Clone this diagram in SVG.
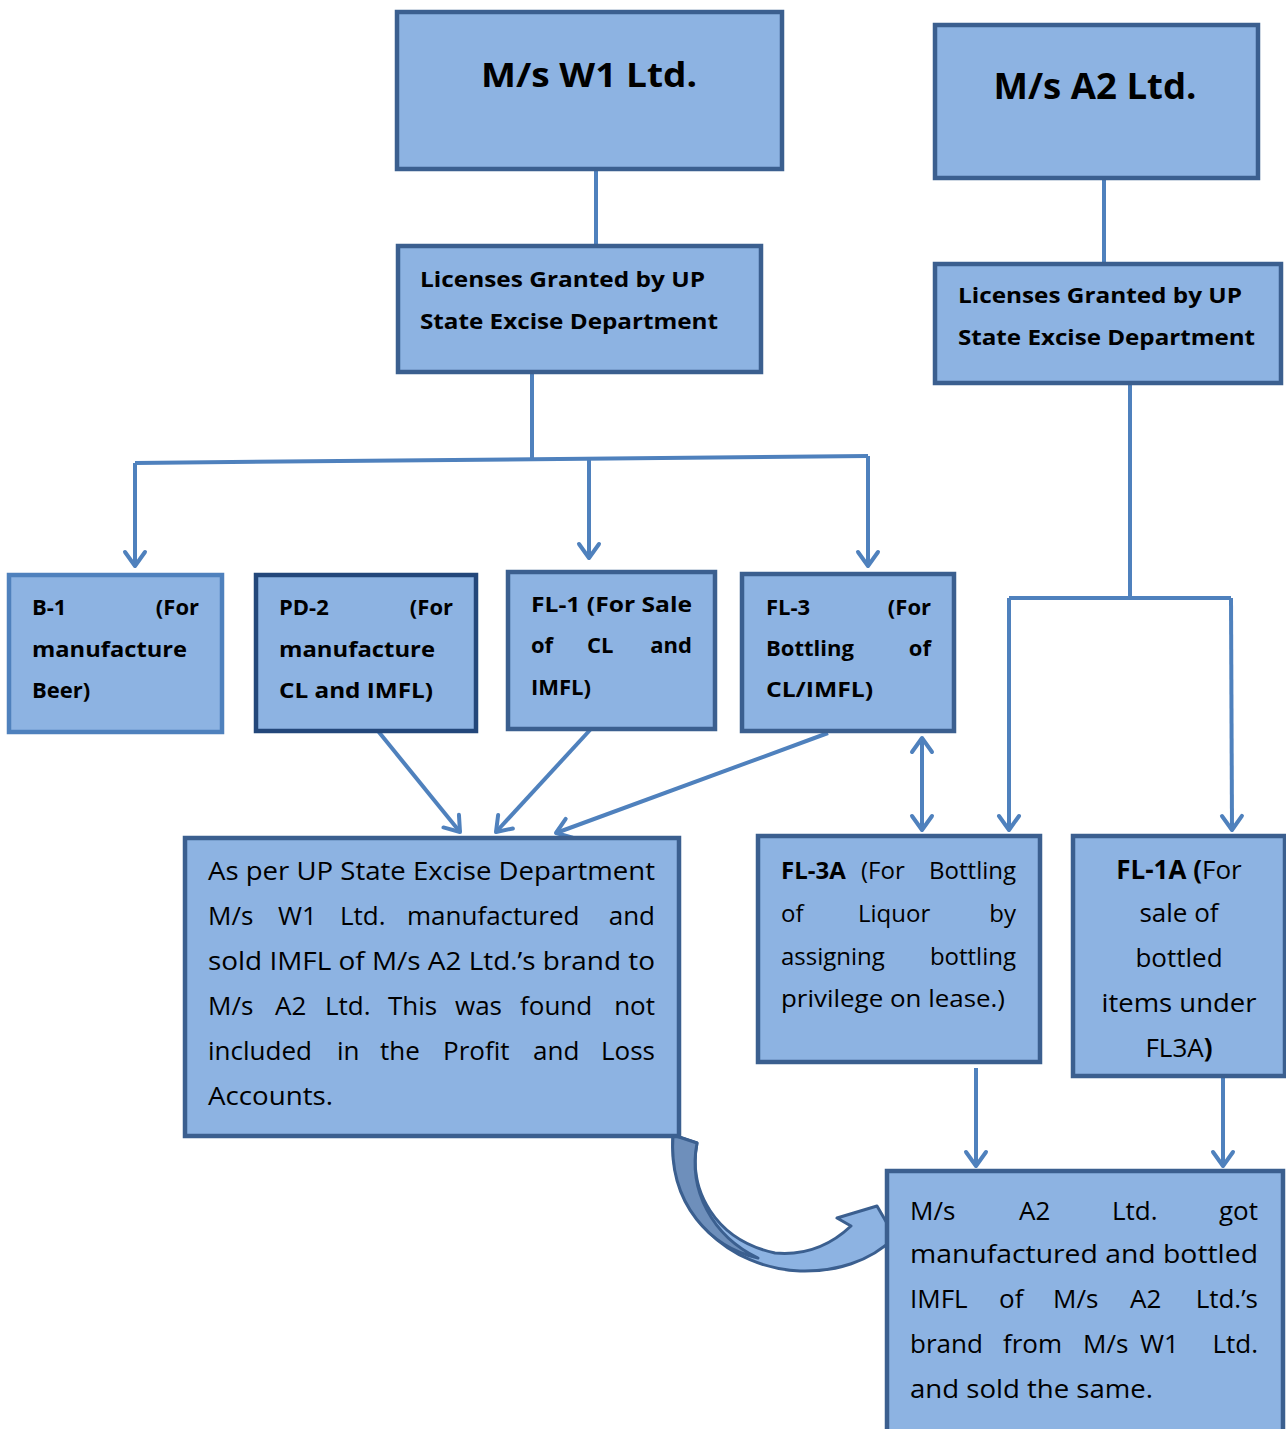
<svg xmlns="http://www.w3.org/2000/svg" width="1286" height="1429" viewBox="0 0 1286 1429">
<style>
.box{fill:#8DB3E2;stroke:#3B5F8F;stroke-width:4.5;stroke-linejoin:miter}
.box-light{stroke:#4F81BD}
.box-dark{stroke:#23477A}
.t{font-family:"Open Sans","Noto Sans","Liberation Sans",sans-serif;fill:#000}
.b{font-weight:bold}
.h{font-size:22px;font-weight:bold}
.m{font-size:26px}
.s{font-size:24px}
.end{text-anchor:end}
.mid{text-anchor:middle}
.c{fill:none;stroke:#4F81BD;stroke-width:4}
.ca{fill:none;stroke:#4F81BD;stroke-width:4;marker-end:url(#ah)}
</style>
<defs>
<marker id="ah" viewBox="-20 -15 25 30" refX="0" refY="0" markerWidth="25" markerHeight="30" markerUnits="userSpaceOnUse" orient="auto-start-reverse" overflow="visible">
<path d="M-14,-10 L0,0 L-14,10" fill="none" stroke="#4F81BD" stroke-width="4" stroke-linecap="round" stroke-linejoin="round"/>
</marker>
</defs>
<rect width="1286" height="1429" fill="#fff"/>

<g id="connectors">
<line class="c" x1="596" y1="169" x2="596" y2="246"/>
<line class="c" x1="1104" y1="178" x2="1104" y2="264"/>
<polyline class="c" points="532,372 532,460"/>
<polyline class="c" points="135,463 868,456"/>
<line class="ca" x1="135" y1="463" x2="135" y2="566"/>
<line class="ca" x1="589" y1="460" x2="589" y2="558"/>
<line class="ca" x1="868" y1="456" x2="868" y2="566"/>
<line class="ca" x1="378" y1="731" x2="460" y2="832"/>
<line class="ca" x1="590" y1="730" x2="496" y2="832"/>
<line class="ca" x1="828" y1="733" x2="556" y2="833"/>
<line class="ca" style="marker-start:url(#ah)" x1="922" y1="738" x2="922" y2="830"/>
<polyline class="c" points="1130,383 1130,598"/>
<polyline class="c" points="1009,598 1231,598"/>
<line class="ca" x1="1009" y1="598" x2="1009" y2="830"/>
<line class="ca" x1="1231" y1="598" x2="1232" y2="830"/>
<line class="ca" x1="976" y1="1068" x2="976" y2="1166"/>
<line class="ca" x1="1223" y1="1077" x2="1223" y2="1166"/>
<g id="curved-arrow" stroke="#3B5F8F" stroke-width="3" stroke-linejoin="round">
<path d="M673,1135 L697,1143 C688,1190 715,1240 775,1253 C808,1256 833,1243 851,1226 L837,1218 L877,1206 L895,1237 C870,1262 835,1272 800,1271 C730,1268 668,1215 673,1135 Z" fill="#8DB3E2"/>
<path d="M673,1135 L697,1143 C688,1190 712,1236 758,1258 C712,1248 668,1205 673,1135 Z" fill="#6E8FBB"/>
</g>
</g>

<g id="w1">
<rect class="box" x="397" y="12" width="385" height="157"/>
<text class="t b mid" x="589" y="87" font-size="34" textLength="216" lengthAdjust="spacingAndGlyphs">M/s W1 Ltd.</text>
</g>
<g id="lic1">
<rect class="box" x="398" y="246" width="363" height="126"/>
<text class="t h" x="420" y="287" textLength="285" lengthAdjust="spacingAndGlyphs">Licenses Granted by UP</text>
<text class="t h" x="420" y="329" textLength="298" lengthAdjust="spacingAndGlyphs">State Excise Department</text>
</g>
<g id="a2">
<rect class="box" x="935" y="25" width="323" height="153"/>
<text class="t b mid" x="1095" y="99" font-size="36" textLength="203" lengthAdjust="spacingAndGlyphs">M/s A2 Ltd.</text>
</g>
<g id="lic2">
<rect class="box" x="935" y="264" width="346" height="119"/>
<text class="t h" x="958" y="303" textLength="284" lengthAdjust="spacingAndGlyphs">Licenses Granted by UP</text>
<text class="t h" x="958" y="345" textLength="297" lengthAdjust="spacingAndGlyphs">State Excise Department</text>
</g>
<g id="b1">
<rect class="box box-light" x="9" y="575" width="213" height="157"/>
<text class="t h" x="32" y="615">B-1</text>
<text class="t h end" x="199" y="615">(For</text>
<text class="t h" x="32" y="657" textLength="155" lengthAdjust="spacingAndGlyphs">manufacture</text>
<text class="t h" x="32" y="698">Beer)</text>
</g>
<g id="pd2">
<rect class="box box-dark" x="256" y="575" width="220" height="156"/>
<text class="t h" x="279" y="615">PD-2</text>
<text class="t h end" x="453" y="615">(For</text>
<text class="t h" x="279" y="657" textLength="156" lengthAdjust="spacingAndGlyphs">manufacture</text>
<text class="t h" x="279" y="698" textLength="154" lengthAdjust="spacingAndGlyphs">CL and IMFL)</text>
</g>
<g id="fl1">
<rect class="box" x="508" y="572" width="207" height="157"/>
<text class="t h" x="531" y="612" textLength="161" lengthAdjust="spacingAndGlyphs">FL-1 (For Sale</text>
<text class="t h" x="531" y="653">of</text>
<text class="t h" x="587" y="653">CL</text>
<text class="t h end" x="692" y="653">and</text>
<text class="t h" x="531" y="695">IMFL)</text>
</g>
<g id="fl3">
<rect class="box" x="742" y="574" width="212" height="157"/>
<text class="t h" x="766" y="615">FL-3</text>
<text class="t h end" x="931" y="615">(For</text>
<text class="t h" x="766" y="656">Bottling</text>
<text class="t h end" x="931" y="656">of</text>
<text class="t h" x="766" y="697" textLength="107" lengthAdjust="spacingAndGlyphs">CL/IMFL)</text>
</g>
<g id="main">
<rect class="box" x="185" y="838" width="494" height="298"/>
<text class="t m" x="208" y="880" textLength="447" lengthAdjust="spacingAndGlyphs">As per UP State Excise Department</text>
<text class="t m" y="925"><tspan x="208">M/s</tspan><tspan x="278">W1</tspan><tspan x="340">Ltd.</tspan><tspan x="407">manufactured</tspan></text>
<text class="t m end" x="655" y="925">and</text>
<text class="t m" x="208" y="970" textLength="447" lengthAdjust="spacingAndGlyphs">sold IMFL of M/s A2 Ltd.’s brand to</text>
<text class="t m" y="1015"><tspan x="208">M/s</tspan><tspan x="275">A2</tspan><tspan x="325">Ltd.</tspan><tspan x="388">This</tspan><tspan x="455">was</tspan><tspan x="520">found</tspan></text>
<text class="t m end" x="655" y="1015">not</text>
<text class="t m" y="1060"><tspan x="208">included</tspan><tspan x="337">in</tspan><tspan x="380">the</tspan><tspan x="443">Profit</tspan><tspan x="533">and</tspan></text>
<text class="t m end" x="655" y="1060">Loss</text>
<text class="t m" x="208" y="1105" textLength="125" lengthAdjust="spacingAndGlyphs">Accounts.</text>
</g>
<g id="fl3a">
<rect class="box" x="758" y="836" width="282" height="226"/>
<text class="t s" y="879"><tspan x="781" font-weight="bold">FL-3A</tspan><tspan x="861">(For</tspan></text>
<text class="t s end" x="1016" y="879">Bottling</text>
<text class="t s" y="922"><tspan x="781">of</tspan><tspan x="858">Liquor</tspan></text>
<text class="t s end" x="1016" y="922">by</text>
<text class="t s" x="781" y="965">assigning</text>
<text class="t s end" x="1016" y="965">bottling</text>
<text class="t s" x="781" y="1007" textLength="224" lengthAdjust="spacingAndGlyphs">privilege on lease.)</text>
</g>
<g id="fl1a">
<rect class="box" x="1073" y="836" width="212" height="240"/>
<text class="t m mid" x="1179" y="879"><tspan font-weight="bold">FL-1A (</tspan>For</text>
<text class="t m mid" x="1179" y="922">sale of</text>
<text class="t m mid" x="1179" y="967">bottled</text>
<text class="t m mid" x="1179" y="1012" textLength="155" lengthAdjust="spacingAndGlyphs">items under</text>
<text class="t m mid" x="1179" y="1057">FL3A<tspan font-weight="bold">)</tspan></text>
</g>
<g id="result">
<rect class="box" x="887" y="1171" width="396" height="280"/>
<text class="t m" y="1220"><tspan x="910">M/s</tspan><tspan x="1019">A2</tspan><tspan x="1112">Ltd.</tspan></text>
<text class="t m end" x="1258" y="1220">got</text>
<text class="t m" x="910" y="1263" textLength="348" lengthAdjust="spacingAndGlyphs">manufactured and bottled</text>
<text class="t m" y="1308"><tspan x="910">IMFL</tspan><tspan x="999">of</tspan><tspan x="1053">M/s</tspan><tspan x="1130">A2</tspan></text>
<text class="t m end" x="1258" y="1308">Ltd.’s</text>
<text class="t m" y="1353"><tspan x="910">brand</tspan><tspan x="1003">from</tspan><tspan x="1083">M/s</tspan><tspan x="1140">W1</tspan></text>
<text class="t m end" x="1258" y="1353">Ltd.</text>
<text class="t m" x="910" y="1398" textLength="243" lengthAdjust="spacingAndGlyphs">and sold the same.</text>
</g>
</svg>
